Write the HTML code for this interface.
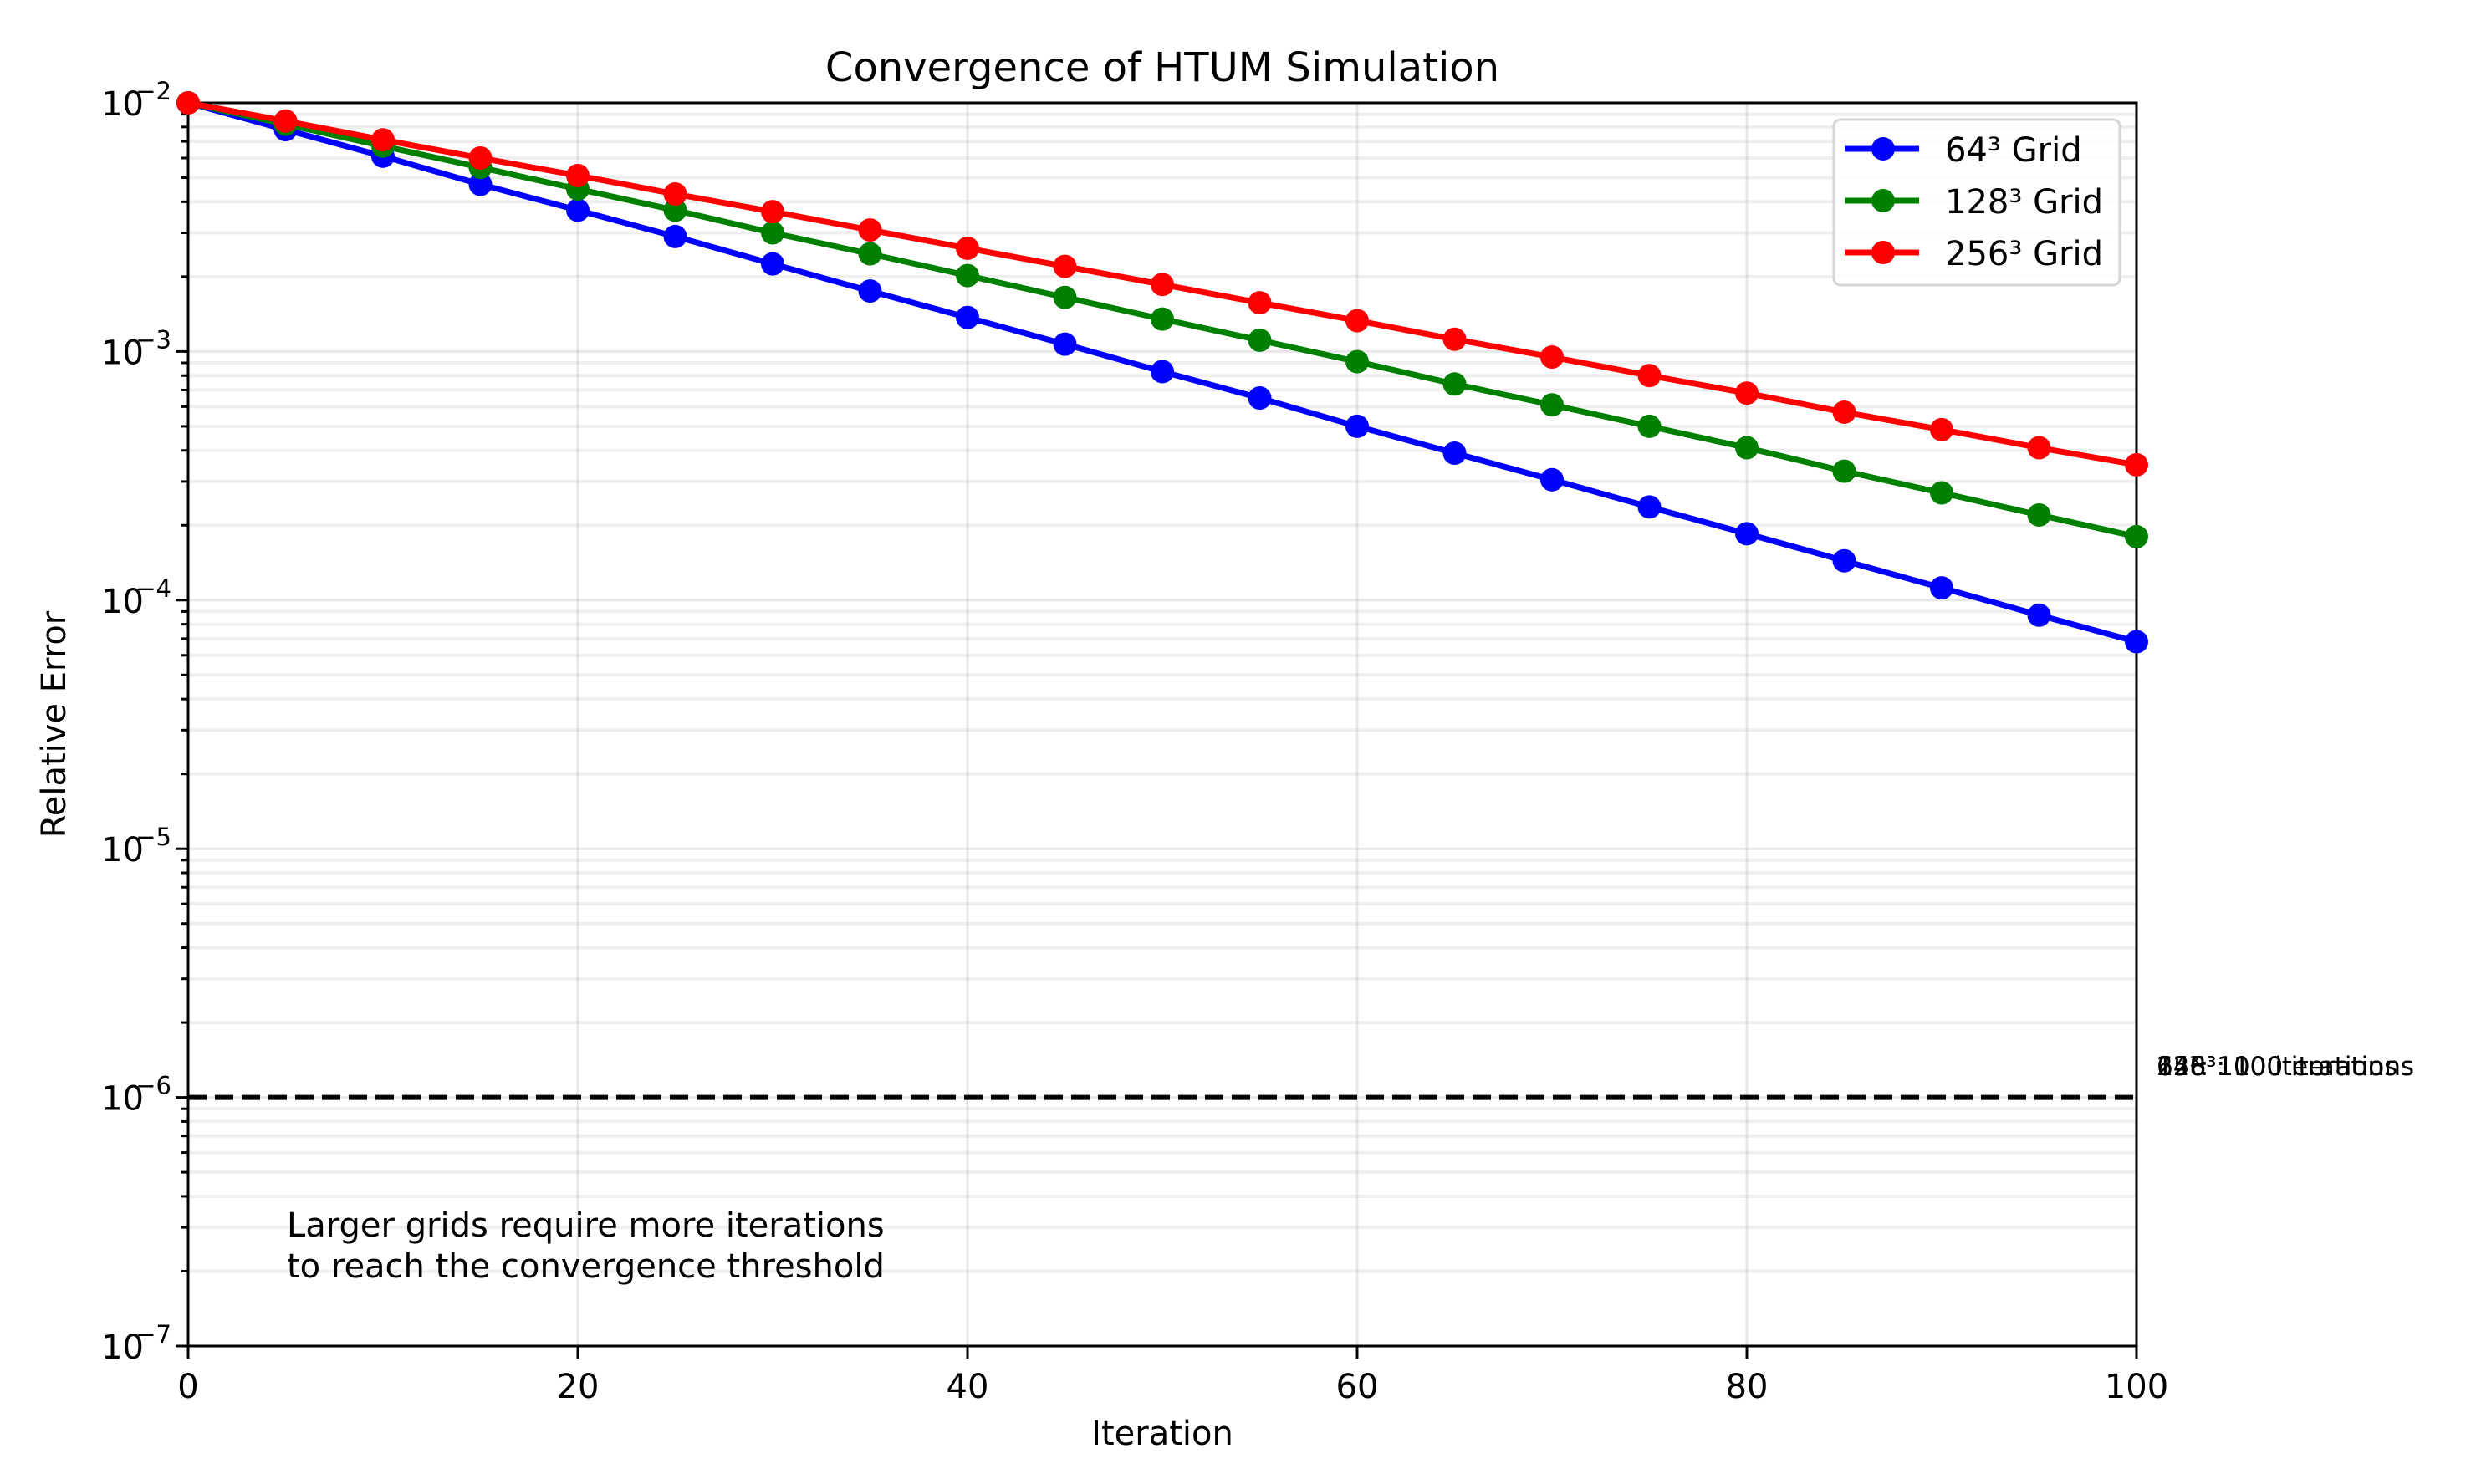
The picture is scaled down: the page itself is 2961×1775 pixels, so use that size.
<!DOCTYPE html>
<html><head><meta charset="utf-8"><style>
html,body{margin:0;padding:0;background:#fff;}
svg{display:block;font-family:"DejaVu Sans","Liberation Sans",sans-serif;}
</style></head><body>
<svg id="chart" width="2961" height="1775" xmlns="http://www.w3.org/2000/svg">
<rect width="2961" height="1775" fill="#fff"/>
<g id="grid"></g>
<g id="axes"></g>
<g id="series"></g>
</svg>
<script>
const iterations=[0,5,10,15,20,25,30,35,40,45,50,55,60,65,70,75,80,85,90,95,100];
const grid64=[1e-2,7.8e-3,6.1e-3,4.7e-3,3.7e-3,2.9e-3,2.25e-3,1.75e-3,1.37e-3,1.07e-3,8.3e-4,6.5e-4,5.0e-4,3.9e-4,3.05e-4,2.37e-4,1.85e-4,1.44e-4,1.12e-4,8.7e-5,6.8e-5];
const grid128=[1e-2,8.2e-3,6.7e-3,5.5e-3,4.5e-3,3.7e-3,3.0e-3,2.47e-3,2.02e-3,1.65e-3,1.35e-3,1.11e-3,9.1e-4,7.4e-4,6.1e-4,5.0e-4,4.1e-4,3.3e-4,2.7e-4,2.2e-4,1.8e-4];
const grid256=[1e-2,8.45e-3,7.1e-3,6.0e-3,5.1e-3,4.3e-3,3.65e-3,3.08e-3,2.6e-3,2.2e-3,1.86e-3,1.57e-3,1.33e-3,1.12e-3,9.5e-4,8.0e-4,6.8e-4,5.7e-4,4.85e-4,4.1e-4,3.5e-4];
const xTicks=[0,20,40,60,80,100];
const yExps=[-2,-3,-4,-5,-6,-7];
const threshold=1e-6;
const seriesNames=["64³ Grid","128³ Grid","256³ Grid"];

const NS="http://www.w3.org/2000/svg";
const L=225,R=2555,T=123,B=1610;
const xMin=0,xMax=100,yMinE=-7,yMaxE=-2;
function X(v){return L+(v-xMin)/(xMax-xMin)*(R-L);}
function Y(v){return B-(Math.log10(v)-yMinE)/(yMaxE-yMinE)*(B-T);}
function mk(tag,attrs,parent){const e=document.createElementNS(NS,tag);for(const k in attrs)e.setAttribute(k,attrs[k]);parent.appendChild(e);return e;}
const svg=document.getElementById('chart');
const gGrid=document.getElementById('grid'),gAx=document.getElementById('axes'),gS=document.getElementById('series');

for(let e=yMinE;e<yMaxE;e++){
  for(let m=2;m<=9;m++){
    const y=Y(m*Math.pow(10,e));
    const gl=mk('line',{x1:L,x2:R,y1:y,y2:y,stroke:'#b0b0b0','stroke-opacity':0.2,'stroke-width':4},gGrid);
    
    
    const tk=mk('line',{x1:L-8,x2:L,y1:y,y2:y,stroke:'#000','stroke-width':3},gAx);
    
    
  }
}
yExps.forEach(e=>{
  const y=Y(Math.pow(10,e));
  const gl=mk('line',{x1:L,x2:R,y1:y,y2:y,stroke:'#b0b0b0','stroke-opacity':0.3,'stroke-width':3},gGrid);
  
  
  const tk=mk('line',{x1:L-15,x2:L,y1:y,y2:y,stroke:'#000','stroke-width':3},gAx);
  
  
  const t=mk('text',{x:L-53,y:y+15,'font-size':40,'text-anchor':'end',fill:'#000'},gAx);
  
  
  t.textContent='10';
  const s=mk('text',{x:L-20,y:y-4,'font-size':29,'text-anchor':'end',fill:'#000'},gAx);
  
  
  s.textContent='−'+Math.abs(e);
});
xTicks.forEach(v=>{
  const x=X(v);
  const gl=mk('line',{x1:x,x2:x,y1:T,y2:B,stroke:'#b0b0b0','stroke-opacity':0.3,'stroke-width':3},gGrid);
  
  
  const tk=mk('line',{x1:x,x2:x,y1:B,y2:B+15,stroke:'#000','stroke-width':3},gAx);
  
  
  const t=mk('text',{x:x,y:B+62,'font-size':40,'text-anchor':'middle',fill:'#000'},gAx);
  
  
  t.textContent=String(v);
});
const th=mk('line',{x1:L,x2:R,y1:Y(threshold),y2:Y(threshold),stroke:'#000','stroke-width':6,'stroke-dasharray':'22 10'},gS);


const colors=['#0000ff','#008000','#ff0000'];
[grid64,grid128,grid256].forEach((arr,i)=>{
  const g=mk('g',{},gS);
  
  
  const pts=arr.map((v,j)=>X(iterations[j])+','+Y(v)).join(' ');
  const pl=mk('polyline',{points:pts,fill:'none',stroke:colors[i],'stroke-width':7,'stroke-linejoin':'round'},g);
  
  
  arr.forEach((v,j)=>{
    const c=mk('circle',{cx:X(iterations[j]),cy:Y(v),r:14,fill:colors[i]},g);
    
    
  });
});
const fr=mk('rect',{x:L,y:T,width:R-L,height:B-T,fill:'none',stroke:'#000','stroke-width':3},gAx);


function txt(str,attrs,name){const t=mk('text',attrs,svg);t.textContent=str;return t;}
txt('Convergence of HTUM Simulation',{x:(L+R)/2,y:97,'font-size':48,'text-anchor':'middle'},'chart-title');
txt('Iteration',{x:(L+R)/2,y:1728,'font-size':40,'text-anchor':'middle'},'x-axis-title');
txt('Relative Error',{x:78,y:(T+B)/2,'font-size':40,'text-anchor':'middle',transform:'rotate(-90 78 '+((T+B)/2)+')'},'y-axis-title');
txt('Larger grids require more iterations',{x:343,y:1479,'font-size':40},'annotation-line-1');
txt('to reach the convergence threshold',{x:343,y:1528,'font-size':40},'annotation-line-2');
['64³: 100 iterations','128³: 100 iterations','256³: 100 iterations'].forEach((s,i)=>{
  txt(s,{x:2579,y:1286,'font-size':31},'iteration-note-'+i);
});
const lg=mk('g',{},svg);


const lb=mk('rect',{x:2193,y:143,width:342,height:198,rx:8,fill:'#fff','fill-opacity':0.8,stroke:'#d6d6d6','stroke-width':3},lg);


seriesNames.forEach((n,i)=>{
  const y=178+i*62;
  const ent=mk('g',{},lg);
  
  
  mk('line',{x1:2206,x2:2295,y1:y,y2:y,stroke:colors[i],'stroke-width':7},ent);
  mk('circle',{cx:2252,cy:y,r:14,fill:colors[i]},ent);
  const t=mk('text',{x:2326,y:y+15,'font-size':40},ent);
  
  
  t.textContent=n;
});
</script>
</body></html>
